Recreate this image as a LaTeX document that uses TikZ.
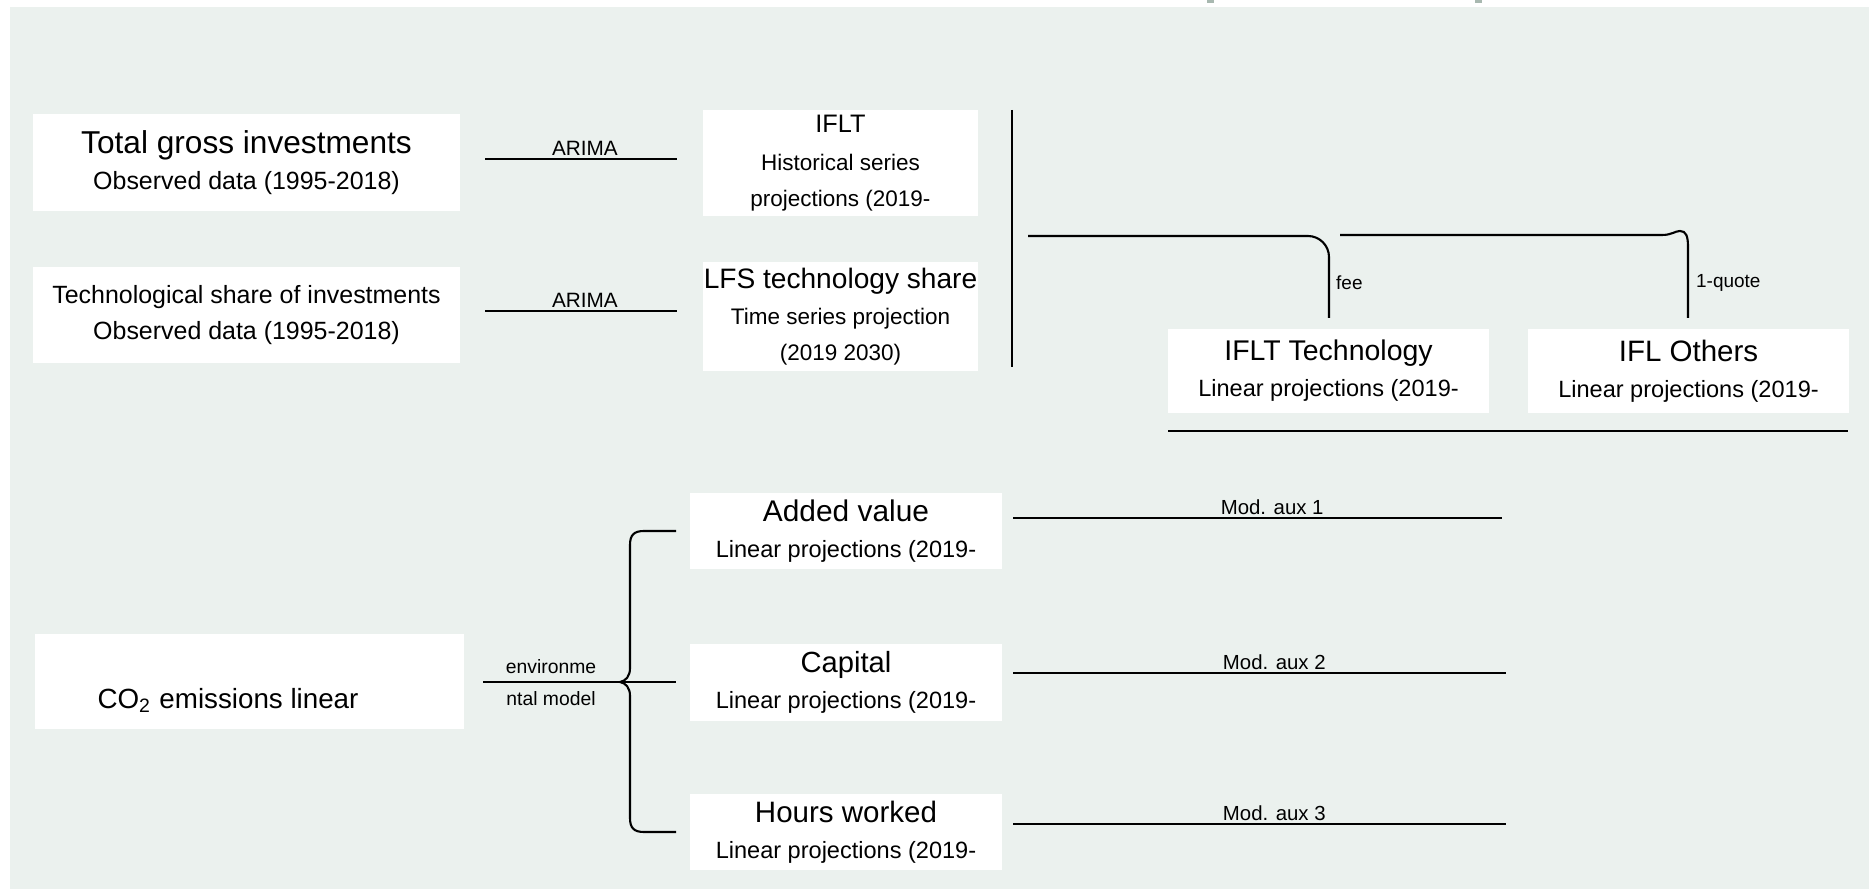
\documentclass[tikz,border=0pt]{standalone}
\usepackage{fontspec}
\setmainfont{Liberation Sans}
\definecolor{panel}{RGB}{235,241,238}
\definecolor{ghost}{RGB}{168,184,176}
\newcommand{\fs}[1]{\fontsize{#1}{10.2}\selectfont}

\begin{document}
\begin{tikzpicture}[x=0.1mm, y=-0.1mm, line width=0.6pt,
    card/.style={fill=white, inner sep=0pt, align=center},
    tag/.style={font=\fs{5.8}, inner sep=0.6pt}]
    \useasboundingbox (0,0) rectangle (1869,889);
    % background
    \fill[white] (0,0) rectangle (1869,889);
    \fill[panel] (10,7) rectangle (1869,889);
    \fill[ghost] (1207,0) rectangle (1214,3);
    \fill[ghost] (1475,0) rectangle (1482,3);
    % investment block
    \node[card, font=\fs{7.1}, minimum width=42.7mm, minimum height=9.7mm] (tgi) at (246.5,162.5)
        {{\fs{9}Total gross investments}\\Observed data (1995-2018)};
    \node[card, font=\fs{7.1}, minimum width=42.7mm, minimum height=9.6mm] (tsi) at (246.5,315)
        {Technological share of investments\\Observed data (1995-2018)};
    \node[card, font=\fs{6.4}, minimum width=27.5mm, minimum height=10.6mm] (iflt) at (840.5,163)
        {{\fs{7.2}IFLT}\\[0.6pt]Historical series\\projections (2019-};
    \node[card, font=\fs{6.4}, minimum width=27.5mm, minimum height=10.9mm] (lfs) at (840.5,316.5)
        {{\fs{8}LFS technology share}\\Time series projection\\(2019 2030)};
    % ARIMA links
    \coordinate (a1s) at (485,159);
    \coordinate (a1e) at (677,159);
    \coordinate (a2s) at (485,311);
    \coordinate (a2e) at (677,311);
    \draw (a1s) -- node[tag, font=\fs{5.9}, above, pos=0.52] {ARIMA} (a1e);
    \draw (a2s) -- node[tag, font=\fs{5.9}, above, pos=0.52] {ARIMA} (a2e);
    % split into technology / others
    \coordinate (sepT) at (1012,110);
    \coordinate (sepB) at (1012,367);
    \draw (sepT) -- (sepB);
    \node[card, font=\fs{6.7}, minimum width=32.1mm, minimum height=8.4mm] (ifltt) at (1328.5,371)
        {{\fs{8.1}IFLT Technology}\\Linear projections (2019-};
    \node[card, font=\fs{6.7}, minimum width=32.1mm, minimum height=8.4mm] (iflo) at (1688.5,371)
        {{\fs{8.4}IFL Others}\\Linear projections (2019-};
    \coordinate (feeS) at (1028,236);
    \coordinate (feeE) at (1329,318);
    \draw[rounded corners=6] (feeS) -| (feeE);
    \node[tag, font=\fs{5.4}, anchor=west] (fee) at (1333,283) {fee};
    \coordinate (quoS) at (1340,235);
    \coordinate (quoE) at (1688,318);
    \draw (quoS) -- (1662,235) .. controls (1672,235) and (1675,231) .. (1680,231)
          .. controls (1686,231) and (1688,236) .. (1688,247) -- (quoE);
    \node[tag, font=\fs{5.4}, anchor=west] (quo) at (1693,283) {1-quote};
    \coordinate (baseL) at (1168,431);
    \coordinate (baseR) at (1848,431);
    \draw (baseL) -- (baseR);
    % emissions block
    \node[card, minimum width=42.9mm, minimum height=9.5mm] (co2) at (249.5,681.5) {};
    \node[font=\fs{7.9}, inner sep=0pt] (co2t) at (228,700) {CO\textsubscript{2} emissions linear};
    \node[card, font=\fs{6.7}, minimum width=31.2mm, minimum height=7.6mm] (addv) at (846,531)
        {{\fs{8.5}Added value}\\Linear projections (2019-};
    \node[card, font=\fs{6.7}, minimum width=31.2mm, minimum height=7.7mm] (capi) at (846,682.5)
        {{\fs{8.3}Capital}\\Linear projections (2019-};
    \node[card, font=\fs{6.7}, minimum width=31.2mm, minimum height=7.6mm] (hours) at (846,832)
        {{\fs{8.4}Hours worked}\\Linear projections (2019-};
    \coordinate (envS) at (483,682);
    \coordinate (envE) at (676,682);
    \draw (envS) -- (envE);
    \node[tag, font=\fs{5.5}] (env1) at (551,667) {environme};
    \node[tag, font=\fs{5.5}] (env2) at (551,699) {ntal model};
    % brace
    \draw (676,531) -- (644,531) .. controls (634,531) and (630,535) .. (630,545)
          -- (630,668) .. controls (630,676) and (626,681) .. (620,682)
          .. controls (626,683) and (630,688) .. (630,696)
          -- (630,818) .. controls (630,828) and (634,832) .. (644,832) -- (676,832);
    % auxiliary models
    \coordinate (m1s) at (1013,518);
    \coordinate (m1e) at (1502,518);
    \coordinate (m2s) at (1013,673);
    \coordinate (m2e) at (1506,673);
    \coordinate (m3s) at (1013,824);
    \coordinate (m3e) at (1506,824);
    \draw (m1s) -- node[tag, above, pos=0.53] {Mod. aux 1} (m1e);
    \draw (m2s) -- node[tag, above, pos=0.53] {Mod. aux 2} (m2e);
    \draw (m3s) -- node[tag, above, pos=0.53] {Mod. aux 3} (m3e);
\end{tikzpicture}
\end{document}
